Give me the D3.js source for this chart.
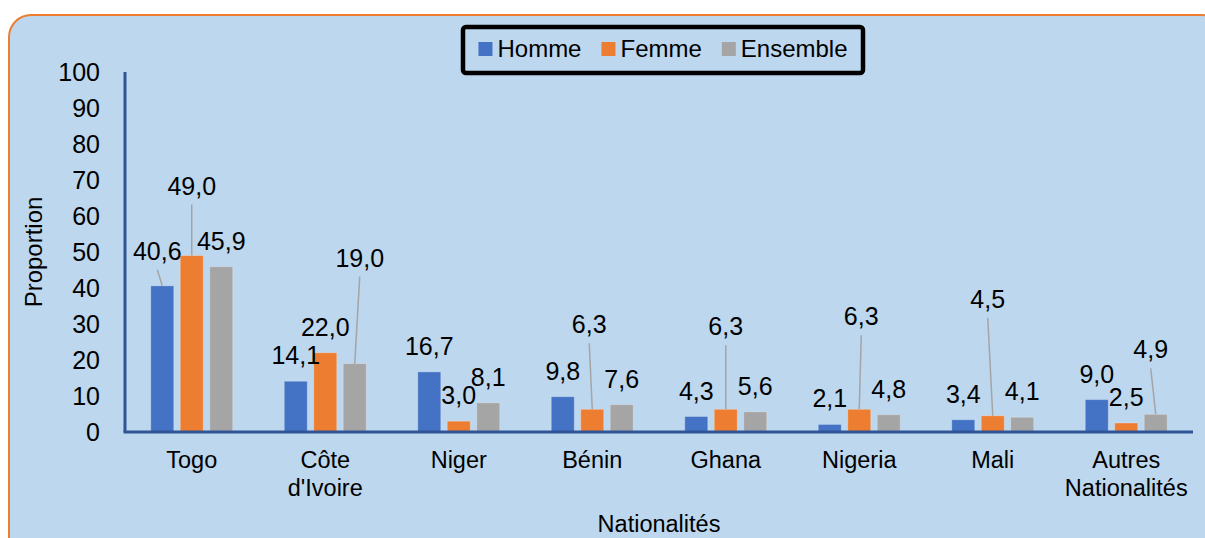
<!DOCTYPE html>
<html lang="fr">
<head>
<meta charset="UTF-8">
<title>Proportion par nationalité</title>
<script src="https://cdn.jsdelivr.net/npm/d3@7"></script>
<style>
  body { margin: 0; background: #fff; }
  svg text { font-family: "Liberation Sans", Arial, sans-serif; fill: #000; }
</style>
</head>
<body>
<div id="root"></div>
<script>
// données
let categories = ["Togo", "Côte\nd'Ivoire", "Niger", "Bénin", "Ghana", "Nigeria", "Mali", "Autres\nNationalités"]
let series = ["Homme", "Femme", "Ensemble"]
let homme = [40.6, 14.1, 16.7, 9.8, 4.3, 2.1, 3.4, 9.0]
let femme = [49.0, 22.0, 3.0, 6.3, 6.3, 6.3, 4.5, 2.5]
let ensemble = [45.9, 19.0, 8.1, 7.6, 5.6, 4.8, 4.1, 4.9]
let yTicks = [0, 10, 20, 30, 40, 50, 60, 70, 80, 90, 100]
let colors = ["#4472C4", "#ED7D31", "#A5A5A5"]

// étiquettes décalées avec trait de rappel : [série, catégorie, dx, dy]
let leaderLabels = [[0, 0, -5, -26], [1, 0, 0, -61], [2, 1, 5, -97], [1, 3, -3, -76],
                    [1, 4, 0, -74], [1, 5, 2, -84], [1, 6, -5, -108], [2, 7, -5, -56]]

let width = 1205, height = 538
let plotLeft = 125, plotRight = 1193, plotTop = 72, plotBottom = 432
let values = [homme, femme, ensemble]

let svg = d3.select("#root").append("svg").attr("width", width).attr("height", height)

// fond arrondi
svg.append("rect").attr("x", 9).attr("y", 15).attr("width", 1215).attr("height", 545)
  .attr("rx", 22).attr("fill", "#BDD7EE").attr("stroke", "#ED7D31").attr("stroke-width", 2)

let y = d3.scaleLinear().domain([0, 100]).range([plotBottom, plotTop])
let x0 = d3.scaleBand().domain(categories).range([plotLeft, plotRight]).paddingInner(0.386).paddingOuter(0.193)
let x1 = d3.scaleBand().domain(series).range([0, x0.bandwidth()]).paddingInner(0.22)

// axe Y (libellés seulement)
let yAxis = d3.axisLeft(y).tickValues(yTicks).tickSize(0).tickPadding(25)
let gy = svg.append("g").attr("transform", "translate(" + plotLeft + ",0)").call(yAxis)
gy.select(".domain").remove()
gy.selectAll("text").style("font-size", "25px").attr("fill", "#000")

// barres
series.forEach(function (s, si) {
  svg.append("g").selectAll("rect").data(values[si]).join("rect")
    .attr("x", (d, i) => x0(categories[i]) + x1(s))
    .attr("y", d => y(d))
    .attr("width", x1.bandwidth())
    .attr("height", d => y(0) - y(d))
    .attr("fill", colors[si])
    .attr("stroke", "rgba(255,255,255,0.25)").attr("stroke-width", 1)
})

// lignes d'axes
svg.append("line").attr("x1", plotLeft).attr("x2", plotLeft).attr("y1", plotTop).attr("y2", plotBottom)
  .attr("stroke", "#2F5597").attr("stroke-width", 3)
svg.append("line").attr("x1", plotLeft - 1.5).attr("x2", plotRight).attr("y1", plotBottom).attr("y2", plotBottom)
  .attr("stroke", "#2F5597").attr("stroke-width", 3)

// étiquettes de données
let fmt = v => d3.format(".1f")(v).replace(".", ",")
series.forEach(function (s, si) {
  values[si].forEach(function (v, ci) {
    let cx = x0(categories[ci]) + x1(s) + x1.bandwidth() / 2
    let ty = y(v)
    let lead = leaderLabels.find(l => l[0] === si && l[1] === ci)
    let dx = lead ? lead[2] : 0, dy = lead ? lead[3] : -17
    if (lead) {
      svg.append("line").attr("x1", cx + dx).attr("y1", ty + dy + 10).attr("x2", cx).attr("y2", ty)
        .attr("stroke", "#A5A5A5").attr("stroke-width", 1.5)
    }
    svg.append("text").attr("x", cx + dx).attr("y", ty + dy).attr("text-anchor", "middle")
      .style("font-size", "25px").text(fmt(v))
  })
})

// libellés des catégories
categories.forEach(function (c) {
  let t = svg.append("text").attr("text-anchor", "middle").style("font-size", "23.5px")
    .attr("y", 468)
  c.split("\n").forEach(function (line, li) {
    t.append("tspan").attr("x", x0(c) + x0.bandwidth() / 2).attr("dy", li ? 28 : 0).text(line)
  })
})

// titres des axes
svg.append("text").attr("x", (plotLeft + plotRight) / 2).attr("y", 532).attr("text-anchor", "middle")
  .style("font-size", "23.5px").text("Nationalités")
svg.append("text").attr("transform", "translate(42," + (plotTop + plotBottom) / 2 + ") rotate(-90)")
  .attr("text-anchor", "middle").style("font-size", "24px").text("Proportion")

// légende
let lg = svg.append("g")
lg.append("rect").attr("x", 463).attr("y", 27).attr("width", 400).attr("height", 46).attr("rx", 3)
  .attr("fill", "#BDD7EE").attr("stroke", "#000").attr("stroke-width", 4.5)
let items = lg.append("g")
let pos = 0
series.forEach(function (s, si) {
  items.append("rect").attr("x", pos).attr("y", -15).attr("width", 14).attr("height", 14).attr("fill", colors[si])
  let t = items.append("text").attr("x", pos + 19).attr("y", 0).style("font-size", "24px").text(s)
  pos += 19 + t.node().getComputedTextLength() + 20
})
let totalW = pos - 20
items.attr("transform", "translate(" + (663 - totalW / 2) + ",57)")
</script>
</body>
</html>
